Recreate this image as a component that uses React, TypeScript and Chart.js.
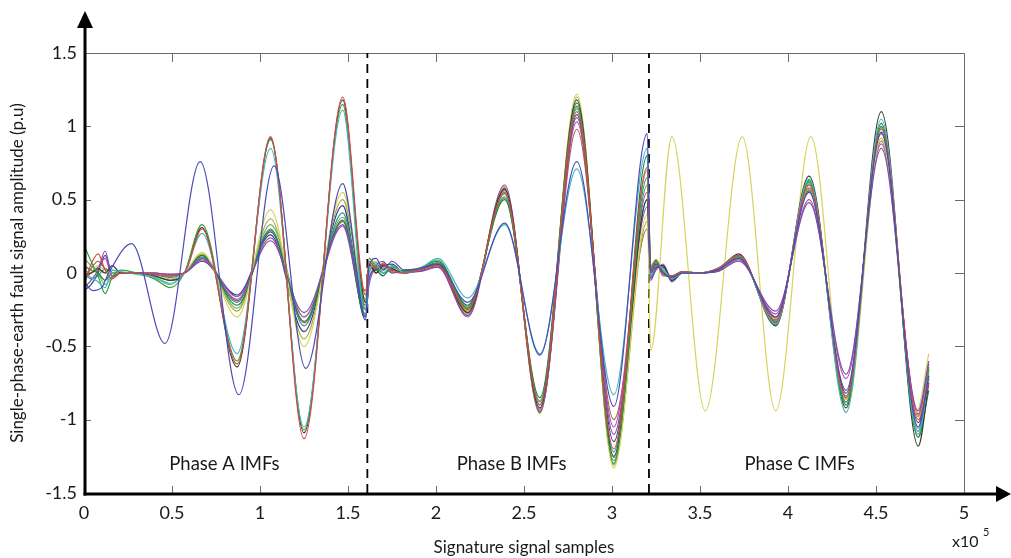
import React, { useEffect, useRef } from "react";
import { Chart, registerables } from "chart.js";

Chart.register(...registerables);

// ---------- axis ticks ----------
const X_TICKS = [0, 0.5, 1, 1.5, 2, 2.5, 3, 3.5, 4, 4.5, 5];
const Y_TICKS = [-1.5, -1, -0.5, 0, 0.5, 1, 1.5];

// ---------- phase separators and labels ----------
const PHASE_BOUNDS = [1.61, 3.21];
const PHASE_LABELS = ["Phase A IMFs", "Phase B IMFs", "Phase C IMFs"];
const PHASE_LABEL_X = [0.798, 2.43, 4.066];
const PHASE_LABEL_Y = -1.34;

// ---------- series ----------
const SERIES_NAMES = [
  "IMF 1", "IMF 2", "IMF 3", "IMF 4", "IMF 5", "IMF 6", "IMF 7",
  "IMF 8", "IMF 9", "IMF 10", "IMF 11", "IMF 12", "IMF 13", "IMF 14",
];
const SERIES_COLORS = [
  "#4a4ab8", "#d9463f", "#3fb8c4", "#3c9c3c", "#3a3a3a", "#7d4fa8", "#d6d35a",
  "#1f7a4a", "#b04fb0", "#2f8f8f", "#a8a83c", "#3a3a8f", "#64b864", "#a0623c",
];

// knot positions (x10^5 samples)
const xA = [0, 0.04, 0.08, 0.12, 0.16, 0.21, 0.3, 0.4, 0.49, 0.57, 0.67, 0.87, 1.06, 1.25, 1.47, 1.6];
const xAblue = [0, 0.05, 0.1, 0.14, 0.27, 0.46, 0.66, 0.88, 1.08, 1.26, 1.47, 1.6];
const xB = [1.62, 1.66, 1.7, 1.75, 1.82, 1.9, 2.01, 2.18, 2.39, 2.59, 2.8, 3.01, 3.2];
const xC = [3.22, 3.25, 3.29, 3.34, 3.4, 3.5, 3.6, 3.72, 3.93, 4.12, 4.33, 4.53, 4.74, 4.8];
const xCyellow = [3.22, 3.34, 3.53, 3.74, 3.93, 4.13, 4.33, 4.53, 4.73, 4.8];

// Phase A amplitudes (row 0 uses xAblue, others xA)
const phaseA = [
  [-0.06, -0.12, -0.1, 0.0, 0.2, -0.48, 0.76, -0.83, 0.73, -0.65, 0.61, -0.3],
  [-0.08, 0.06, 0.13, 0.02, -0.04, 0.0, 0.0, -0.01, -0.02, 0.0, 0.3, -0.62, 0.93, -1.13, 1.2, -0.15],
  [0.0, -0.03, -0.06, -0.1, 0.02, 0.01, -0.01, -0.03, -0.07, 0.0, 0.27, -0.55, 0.85, -1.05, 1.11, -0.3],
  [0.19, 0.08, -0.02, -0.14, -0.03, 0.02, 0.0, -0.04, -0.1, 0.0, 0.33, -0.6, 0.91, -1.07, 1.15, -0.25],
  [-0.02, 0.0, 0.03, 0.0, 0.05, 0.0, 0.0, -0.02, -0.05, 0.0, 0.31, -0.64, 0.92, -1.09, 1.18, -0.2],
  [-0.1, -0.05, 0.02, 0.15, -0.02, 0.0, 0.0, 0.0, -0.01, 0.0, 0.1, -0.16, 0.22, -0.27, 0.33, -0.25],
  [-0.03, 0.0, 0.05, 0.02, 0.0, 0.0, 0.0, -0.02, -0.04, 0.0, 0.14, -0.3, 0.43, -0.5, 0.55, -0.15],
  [0.05, 0.02, 0.0, -0.05, 0.0, 0.0, 0.0, -0.02, -0.05, 0.0, 0.12, -0.22, 0.28, -0.33, 0.36, -0.3],
  [-0.05, 0.0, 0.04, 0.1, -0.03, 0.0, 0.0, 0.0, -0.01, 0.0, 0.09, -0.18, 0.24, -0.3, 0.32, -0.28],
  [0.0, -0.04, -0.02, 0.03, 0.0, 0.0, 0.0, -0.01, -0.03, 0.0, 0.11, -0.2, 0.3, -0.36, 0.41, -0.22],
  [0.02, 0.0, 0.02, 0.0, 0.02, 0.0, 0.0, -0.01, -0.02, 0.0, 0.13, -0.26, 0.37, -0.45, 0.5, -0.18],
  [-0.12, -0.08, 0.0, 0.12, 0.0, 0.0, 0.0, 0.0, -0.01, 0.0, 0.08, -0.15, 0.26, -0.4, 0.46, -0.32],
  [0.1, 0.05, 0.0, -0.08, -0.02, 0.0, 0.0, -0.03, -0.08, 0.0, 0.12, -0.24, 0.33, -0.3, 0.38, -0.2],
  [-0.04, 0.03, 0.08, 0.03, 0.0, 0.0, 0.0, -0.01, -0.02, 0.0, 0.1, -0.19, 0.29, -0.34, 0.35, -0.12],
];

// Phase B amplitudes (all rows use xB)
const phaseB = [
  [0.05, 0.1, 0.02, 0.08, 0.02, 0.03, 0.06, -0.2, 0.34, -0.56, 0.76, -0.91, 0.95],
  [0.08, 0.03, 0.06, 0.02, 0.0, 0.02, 0.05, -0.25, 0.55, -0.9, 1.1, -1.2, 0.72],
  [0.0, 0.06, 0.0, 0.05, 0.0, 0.02, 0.1, -0.17, 0.33, -0.55, 0.71, -0.83, 0.85],
  [0.1, 0.04, 0.0, 0.04, 0.01, 0.03, 0.07, -0.24, 0.52, -0.88, 1.14, -1.28, 0.6],
  [0.06, 0.0, 0.05, 0.03, 0.0, 0.02, 0.06, -0.27, 0.57, -0.92, 1.18, -1.25, 0.5],
  [-0.05, 0.05, 0.08, 0.0, 0.02, 0.01, 0.04, -0.29, 0.6, -0.95, 1.06, -1.1, 0.45],
  [0.02, 0.08, 0.02, 0.04, 0.0, 0.02, 0.05, -0.28, 0.59, -0.96, 1.22, -1.33, 0.4],
  [0.04, 0.02, -0.02, 0.05, 0.0, 0.03, 0.08, -0.22, 0.5, -0.85, 1.16, -1.3, 0.8],
  [-0.08, 0.04, 0.06, 0.01, 0.0, 0.02, 0.04, -0.3, 0.58, -0.93, 1.03, -1.05, 0.55],
  [0.03, 0.07, 0.0, 0.02, 0.01, 0.02, 0.07, -0.24, 0.54, -0.9, 1.12, -1.22, 0.65],
  [0.0, 0.05, 0.03, 0.03, 0.0, 0.02, 0.06, -0.26, 0.56, -0.94, 1.2, -1.31, 0.35],
  [-0.03, 0.02, 0.05, 0.06, 0.0, 0.01, 0.05, -0.28, 0.58, -0.95, 1.08, -1.15, 0.5],
  [0.07, 0.02, 0.04, 0.0, 0.02, 0.03, 0.09, -0.23, 0.51, -0.87, 1.13, -1.26, 0.7],
  [0.05, 0.0, 0.07, 0.02, 0.0, 0.02, 0.05, -0.27, 0.57, -0.94, 0.98, -1.0, 0.3],
];

// Phase C amplitudes (row 6 uses xCyellow, others xC)
const phaseC = [
  [0.0, 0.06, 0.0, -0.03, 0.0, 0.0, 0.02, 0.1, -0.3, 0.55, -0.8, 0.95, -1.05, -0.7],
  [0.02, 0.08, -0.02, -0.02, 0.01, 0.0, 0.03, 0.12, -0.33, 0.6, -0.85, 0.98, -1.0, -0.75],
  [-0.02, 0.05, 0.03, -0.04, 0.0, 0.0, 0.03, 0.12, -0.35, 0.64, -0.95, 1.05, -1.1, -0.7],
  [0.04, 0.09, 0.0, -0.02, 0.01, 0.0, 0.02, 0.11, -0.34, 0.62, -0.9, 1.0, -1.12, -0.65],
  [0.0, 0.04, 0.05, -0.05, 0.0, 0.0, 0.02, 0.13, -0.36, 0.66, -0.92, 1.1, -1.18, -0.75],
  [-0.05, 0.03, 0.05, -0.06, 0.0, 0.0, 0.01, 0.08, -0.26, 0.48, -0.69, 0.85, -0.94, -0.6],
  [-0.53, 0.93, -0.94, 0.93, -0.94, 0.93, -0.95, 0.92, -0.95, -0.55],
  [0.03, 0.07, 0.0, -0.03, 0.0, 0.0, 0.03, 0.12, -0.35, 0.63, -0.9, 1.02, -1.12, -0.8],
  [-0.04, 0.02, 0.06, -0.04, 0.0, 0.0, 0.01, 0.09, -0.28, 0.5, -0.72, 0.88, -0.96, -0.62],
  [0.02, 0.08, 0.01, -0.03, 0.01, 0.0, 0.03, 0.11, -0.33, 0.6, -0.88, 1.0, -1.08, -0.72],
  [0.0, 0.05, 0.02, -0.02, 0.0, 0.0, 0.02, 0.1, -0.31, 0.57, -0.86, 0.92, -0.98, -0.68],
  [-0.03, 0.04, 0.04, -0.05, 0.0, 0.0, 0.02, 0.1, -0.3, 0.56, -0.82, 0.96, -1.02, -0.72],
  [0.05, 0.09, -0.01, -0.02, 0.01, 0.0, 0.03, 0.12, -0.34, 0.61, -0.88, 0.99, -1.06, -0.66],
  [0.01, 0.06, 0.02, -0.03, 0.0, 0.0, 0.02, 0.11, -0.32, 0.58, -0.84, 0.9, -0.97, -0.64],
];

const FONT = "Lato, 'Open Sans', sans-serif";

function buildPoints(i: number) {
  const ka = i === 0 ? xAblue : xA;
  const kc = i === 6 ? xCyellow : xC;
  const pts: { x: number; y: number }[] = [];
  ka.forEach((x, j) => pts.push({ x, y: phaseA[i][j] }));
  xB.forEach((x, j) => pts.push({ x, y: phaseB[i][j] }));
  kc.forEach((x, j) => pts.push({ x, y: phaseC[i][j] }));
  return pts;
}

const fmt = (v: number) => String(+Number(v).toFixed(2));

const decorPlugin = {
  id: "decor",
  beforeDatasetsDraw(chart: any) {
    const { ctx, chartArea: a, scales } = chart;
    const x = scales.x;
    const y = scales.y;
    ctx.save();
    ctx.strokeStyle = "#6a6a6a";
    ctx.lineWidth = 1;
    ctx.beginPath();
    ctx.moveTo(a.left, a.top + 0.5);
    ctx.lineTo(a.right + 0.5, a.top + 0.5);
    ctx.lineTo(a.right + 0.5, a.bottom);
    ctx.stroke();
    ctx.beginPath();
    for (const v of X_TICKS) {
      if (v <= 0 || v >= 5) continue;
      const px = Math.round(x.getPixelForValue(v)) + 0.5;
      ctx.moveTo(px, a.top);
      ctx.lineTo(px, a.top + 9);
      ctx.moveTo(px, a.bottom - 7);
      ctx.lineTo(px, a.bottom);
    }
    for (const v of Y_TICKS) {
      if (v <= -1.5 || v >= 1.5) continue;
      const py = Math.round(y.getPixelForValue(v)) + 0.5;
      ctx.moveTo(a.left, py);
      ctx.lineTo(a.left + 7, py);
      ctx.moveTo(a.right - 9, py);
      ctx.lineTo(a.right, py);
    }
    ctx.stroke();
    ctx.restore();
  },
  afterDraw(chart: any) {
    const { ctx, chartArea: a, scales } = chart;
    const x = scales.x;
    const y = scales.y;
    ctx.save();
    // thick axes with arrows
    ctx.strokeStyle = "#000";
    ctx.fillStyle = "#000";
    ctx.lineWidth = 3;
    const ax = a.left + 1;
    const ay = a.bottom + 1;
    ctx.beginPath();
    ctx.moveTo(ax, ay + 1.5);
    ctx.lineTo(ax, 26);
    ctx.stroke();
    ctx.beginPath();
    ctx.moveTo(ax, 11);
    ctx.lineTo(ax - 8, 28);
    ctx.lineTo(ax + 8, 28);
    ctx.closePath();
    ctx.fill();
    ctx.beginPath();
    ctx.moveTo(a.left - 0.5, ay);
    ctx.lineTo(1000, ay);
    ctx.stroke();
    ctx.beginPath();
    ctx.moveTo(1011, ay);
    ctx.lineTo(996, ay - 8);
    ctx.lineTo(996, ay + 8);
    ctx.closePath();
    ctx.fill();

    // phase labels
    ctx.fillStyle = "#1a1a1a";
    ctx.font = `18.5px ${FONT}`;
    ctx.textAlign = "center";
    ctx.textBaseline = "alphabetic";
    PHASE_LABELS.forEach((t, i) => {
      ctx.fillText(t, x.getPixelForValue(PHASE_LABEL_X[i]), y.getPixelForValue(PHASE_LABEL_Y));
    });

    // exponent label
    ctx.textAlign = "left";
    ctx.font = `16px ${FONT}`;
    ctx.fillText("x10", a.right - 12, 547);
    ctx.font = `11px ${FONT}`;
    ctx.fillText("5", a.right + 19, 536);
    ctx.restore();
  },
};

export default function App() {
  const ref = useRef<HTMLCanvasElement | null>(null);

  useEffect(() => {
    if (!ref.current) return;
    const datasets: any[] = SERIES_NAMES.map((name, i) => ({
      label: name,
      data: buildPoints(i),
      borderColor: SERIES_COLORS[i],
      borderWidth: 1.2,
      pointRadius: 0,
      fill: false,
      cubicInterpolationMode: "monotone",
    }));
    PHASE_BOUNDS.forEach((b, i) => {
      datasets.push({
        label: `bound${i}`,
        data: [
          { x: b, y: -1.5 },
          { x: b, y: 1.5 },
        ],
        borderColor: "#000",
        borderWidth: 1.8,
        borderDash: [9, 6],
        pointRadius: 0,
        fill: false,
        tension: 0,
      });
    });

    const chart = new Chart(ref.current, {
      type: "line",
      data: { datasets },
      options: {
        animation: false,
        responsive: false,
        maintainAspectRatio: false,
        devicePixelRatio: 1,
        layout: { padding: { top: 53, right: 47, left: 0, bottom: 0 } },
        plugins: {
          legend: { display: false },
          tooltip: { enabled: false },
        },
        scales: {
          x: {
            type: "linear",
            min: 0,
            max: 5,
            position: "bottom",
            afterFit: (s: any) => {
              s.height = 65;
            },
            afterBuildTicks: (s: any) => {
              s.ticks = X_TICKS.map((v) => ({ value: v }));
            },
            grid: { display: false, drawTicks: false },
            border: { display: false },
            ticks: {
              padding: 9,
              maxRotation: 0,
              autoSkip: false,
              color: "#1a1a1a",
              font: { family: FONT, size: 18 },
              callback: (v: any) => fmt(v),
            },
            title: {
              display: true,
              text: "Signature signal samples",
              color: "#1a1a1a",
              font: { family: FONT, size: 17 },
              padding: { top: 0, bottom: 0 },
            },
          },
          y: {
            type: "linear",
            min: -1.5,
            max: 1.5,
            afterFit: (s: any) => {
              s.width = 84;
            },
            afterBuildTicks: (s: any) => {
              s.ticks = Y_TICKS.map((v) => ({ value: v }));
            },
            grid: { display: false, drawTicks: false },
            border: { display: false },
            ticks: {
              padding: 7,
              autoSkip: false,
              color: "#1a1a1a",
              font: { family: FONT, size: 18 },
              callback: (v: any) => fmt(v),
            },
            title: {
              display: true,
              text: "Single-phase-earth fault signal amplitude (p.u)",
              color: "#1a1a1a",
              font: { family: FONT, size: 17 },
              padding: { top: 7, bottom: 0 },
            },
          },
        },
      },
      plugins: [decorPlugin],
    } as any);
    return () => chart.destroy();
  }, []);

  return (
    <div style={{ position: "fixed", left: 0, top: 0, width: 1011, height: 558, background: "#fff" }}>
      <canvas ref={ref} width={1011} height={558} style={{ width: 1011, height: 558, display: "block" }} />
    </div>
  );
}
